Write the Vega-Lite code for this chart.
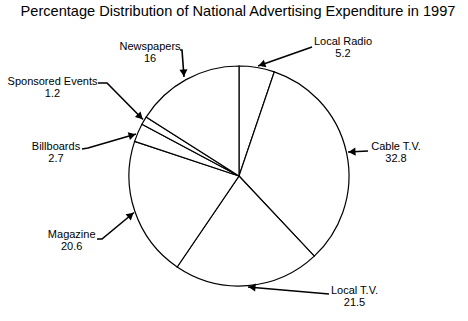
{
  "$schema": "https://vega.github.io/schema/vega-lite/v6.json",
  "width": 468,
  "height": 290,
  "autosize": {"type": "none"},
  "padding": {"left": 0, "top": 31, "right": 0, "bottom": 0},
  "background": "white",
  "title": {
    "text": "Percentage Distribution of National Advertising Expenditure in 1997",
    "font": "Liberation Sans",
    "fontSize": 14.6,
    "fontWeight": "normal",
    "color": "#000000",
    "anchor": "middle",
    "dx": 4,
    "offset": 12
  },
  "config": {"view": {"stroke": null}},
  "datasets": {
    "slices": [
      {"name": "Local Radio", "value": 5.2, "idx": 1},
      {"name": "Cable T.V.", "value": 32.8, "idx": 2},
      {"name": "Local T.V.", "value": 21.5, "idx": 3},
      {"name": "Magazine", "value": 20.6, "idx": 4},
      {"name": "Billboards", "value": 2.7, "idx": 5},
      {"name": "Sponsored Events", "value": 1.2, "idx": 6},
      {"name": "Newspapers", "value": 16, "idx": 7}
    ],
    "labels": [
      {"name": "Local Radio", "value": "5.2", "lx": 104, "ly": 134},
      {"name": "Newspapers", "value": "16", "lx": -89, "ly": 129.3},
      {"name": "Sponsored Events", "value": "1.2", "lx": -186.5, "ly": 94.3},
      {"name": "Billboards", "value": "2.7", "lx": -183, "ly": 29.3},
      {"name": "Magazine", "value": "20.6", "lx": -167.3, "ly": -59},
      {"name": "Cable T.V.", "value": "32.8", "lx": 157, "ly": 28.7},
      {"name": "Local T.V.", "value": "21.5", "lx": 115.5, "ly": -114.7}
    ],
    "leaders": [
      {"arrow": "Local Radio", "seq": 1, "px": 73, "py": 129},
      {"arrow": "Local Radio", "seq": 2, "px": 19, "py": 110},
      {"arrow": "Newspapers", "seq": 1, "px": -59, "py": 126},
      {"arrow": "Newspapers", "seq": 2, "px": -57, "py": 126},
      {"arrow": "Newspapers", "seq": 3, "px": -55, "py": 99},
      {"arrow": "Sponsored Events", "seq": 1, "px": -141, "py": 93},
      {"arrow": "Sponsored Events", "seq": 2, "px": -132, "py": 93},
      {"arrow": "Sponsored Events", "seq": 3, "px": -96, "py": 56.5},
      {"arrow": "Billboards", "seq": 1, "px": -157, "py": 27},
      {"arrow": "Billboards", "seq": 2, "px": -151, "py": 28},
      {"arrow": "Billboards", "seq": 3, "px": -103, "py": 42},
      {"arrow": "Magazine", "seq": 1, "px": -142, "py": -63},
      {"arrow": "Magazine", "seq": 2, "px": -137, "py": -63},
      {"arrow": "Magazine", "seq": 3, "px": -105, "py": -36.5},
      {"arrow": "Cable T.V.", "seq": 1, "px": 129, "py": 25},
      {"arrow": "Cable T.V.", "seq": 2, "px": 109, "py": 24},
      {"arrow": "Local T.V.", "seq": 1, "px": 90, "py": -118},
      {"arrow": "Local T.V.", "seq": 2, "px": 9, "py": -111}
    ],
    "heads": [
      {"arrow": "Local Radio", "hx": 22.8, "hy": 111.3, "dir": 251},
      {"arrow": "Newspapers", "hx": -55.3, "hy": 103, "dir": 176},
      {"arrow": "Sponsored Events", "hx": -98.8, "hy": 59.3, "dir": 135},
      {"arrow": "Billboards", "hx": -106.8, "hy": 40.9, "dir": 74},
      {"arrow": "Magazine", "hx": -108.1, "hy": -39.05, "dir": 50},
      {"arrow": "Cable T.V.", "hx": 113, "hy": 24.2, "dir": 267},
      {"arrow": "Local T.V.", "hx": 13, "hy": -111.3, "dir": 275}
    ]
  },
  "layer": [
    {
      "data": {"name": "slices"},
      "mark": {"type": "arc", "radius": 110, "fill": "white", "stroke": "black", "strokeWidth": 1.2},
      "encoding": {
        "theta": {"field": "value", "type": "quantitative", "stack": true},
        "order": {"field": "idx", "type": "quantitative"},
        "x": {"datum": 0, "type": "quantitative", "scale": {"domain": [-239, 229]}, "axis": null},
        "y": {"datum": 0, "type": "quantitative", "scale": {"domain": [-145, 145]}, "axis": null}
      }
    },
    {
      "data": {"name": "leaders"},
      "mark": {"type": "line", "color": "black", "strokeWidth": 1.6},
      "encoding": {
        "x": {"field": "px", "type": "quantitative", "scale": {"domain": [-239, 229]}, "axis": null},
        "y": {"field": "py", "type": "quantitative", "scale": {"domain": [-145, 145]}, "axis": null},
        "detail": {"field": "arrow"},
        "order": {"field": "seq", "type": "quantitative"}
      }
    },
    {
      "data": {"name": "heads"},
      "mark": {"type": "point", "shape": "triangle-up", "filled": true, "color": "black", "size": 65, "opacity": 1},
      "encoding": {
        "x": {"field": "hx", "type": "quantitative", "scale": {"domain": [-239, 229]}, "axis": null},
        "y": {"field": "hy", "type": "quantitative", "scale": {"domain": [-145, 145]}, "axis": null},
        "angle": {"field": "dir", "type": "quantitative", "scale": null}
      }
    },
    {
      "data": {"name": "labels"},
      "mark": {"type": "text", "font": "Liberation Sans", "fontSize": 11, "color": "black", "align": "center", "baseline": "middle"},
      "encoding": {
        "x": {"field": "lx", "type": "quantitative", "scale": {"domain": [-239, 229]}, "axis": null},
        "y": {"field": "ly", "type": "quantitative", "scale": {"domain": [-145, 145]}, "axis": null},
        "text": {"field": "name"}
      }
    },
    {
      "data": {"name": "labels"},
      "mark": {"type": "text", "font": "Liberation Sans", "fontSize": 11, "color": "black", "align": "center", "baseline": "middle", "dy": 12},
      "encoding": {
        "x": {"field": "lx", "type": "quantitative", "scale": {"domain": [-239, 229]}, "axis": null},
        "y": {"field": "ly", "type": "quantitative", "scale": {"domain": [-145, 145]}, "axis": null},
        "text": {"field": "value"}
      }
    }
  ]
}
